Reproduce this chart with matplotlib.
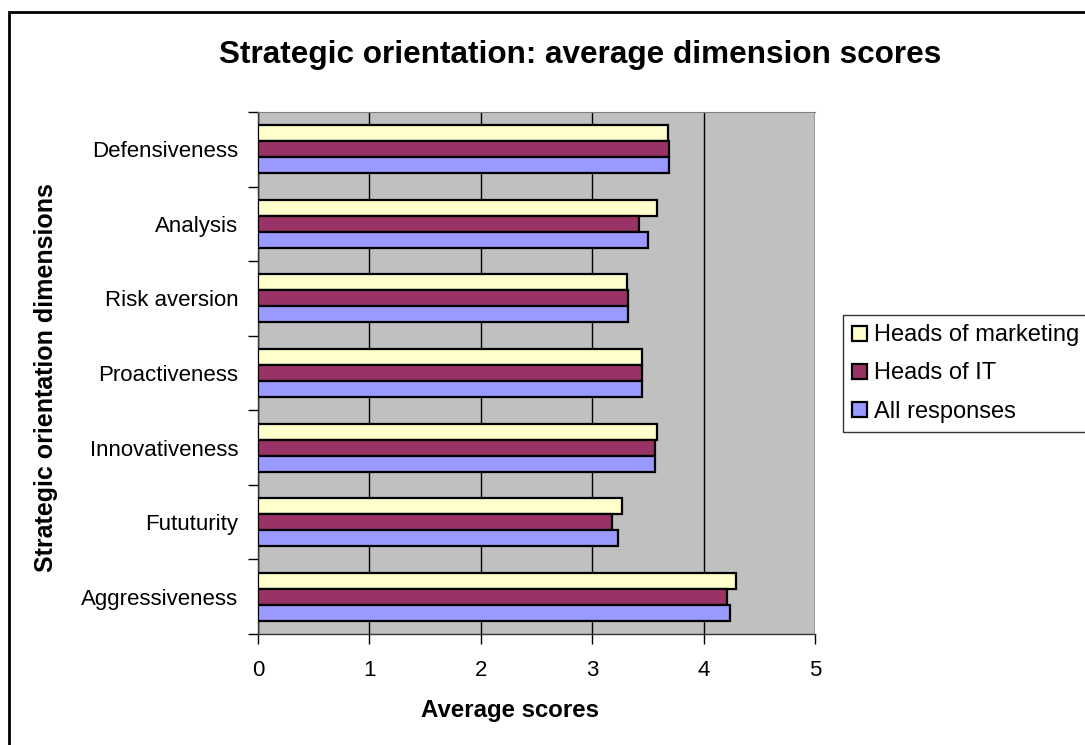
import matplotlib
matplotlib.use("Agg")
import matplotlib.pyplot as plt
import numpy as np
from matplotlib.patches import Rectangle

categories = ["Aggressiveness", "Fututurity", "Innovativeness", "Proactiveness",
              "Risk aversion", "Analysis", "Defensiveness"]
heads_marketing = [4.29, 3.27, 3.58, 3.45, 3.31, 3.58, 3.68]
heads_it = [4.21, 3.18, 3.56, 3.45, 3.32, 3.42, 3.69]
all_responses = [4.24, 3.23, 3.56, 3.45, 3.32, 3.50, 3.69]
series_names = ["Heads of marketing", "Heads of IT", "All responses"]
colors = ["#FFFFCC", "#993366", "#9999FF"]

plt.rcParams['font.family'] = ['Liberation Sans', 'DejaVu Sans']

W, H = 1085, 745
fig = plt.figure(figsize=(W / 100, H / 100), dpi=100)
fig.patch.set_facecolor("white")

# outer border (extends beyond right and bottom edges)
fig.patches.append(Rectangle((9 / W, -0.05), 1.0, (H - 12) / H + 0.05, transform=fig.transFigure,
                             fill=False, edgecolor="black", linewidth=2))

left, right, top, bottom = 258, 815, 112, 634
ax = fig.add_axes([left / W, 1 - bottom / H, (right - left) / W, (bottom - top) / H])
ax.set_facecolor("#C0C0C0")

n = len(categories)
y = np.arange(n)
bh = 0.215
data = [heads_marketing, heads_it, all_responses]
offsets = [bh, 0, -bh]
for vals, off, c, name in zip(data, offsets, colors, series_names):
    ax.barh(y + off, vals, height=bh, color=c, edgecolor="black", linewidth=1.6,
            label=name, zorder=3)

ax.set_xlim(0, 5)
ax.set_ylim(-0.5, n - 0.5)
ax.set_xticks(range(6))
ax.set_xticklabels([str(i) for i in range(6)], fontsize=16)
ax.set_yticks(y)
ax.set_yticklabels(categories, fontsize=16)
ax.set_yticks(np.arange(-0.5, n, 1), minor=True)
ax.tick_params(axis='y', which='major', length=0, pad=14)
ax.tick_params(axis='y', which='minor', length=7, direction='out', width=1)
ax.tick_params(axis='x', which='major', length=7, direction='out', width=1, pad=12)
ax.xaxis.grid(True, color="black", linewidth=1)
ax.set_axisbelow(True)
ax.spines["right"].set_visible(False)
for s in ["left", "bottom"]:
    ax.spines[s].set_color("#333333")
    ax.spines[s].set_linewidth(1)
ax.spines["top"].set_color("#808080")

ax.set_xlabel("Average scores", fontsize=17.3, fontweight="bold")
ax.set_ylabel("Strategic orientation dimensions", fontsize=18, fontweight="bold")
# label positions in axes coordinates
ax.xaxis.set_label_coords((510 - left) / (right - left), -(710 - bottom) / (bottom - top), transform=ax.transAxes)
ax.xaxis.label.set_va("center")
ax.yaxis.set_label_coords(-(left - 46) / (right - left), (bottom - 378) / (bottom - top), transform=ax.transAxes)
ax.yaxis.label.set_va("center")

fig.text(580 / W, 1 - 55 / H, "Strategic orientation: average dimension scores",
         ha="center", va="center", fontsize=22.7, fontweight="bold")

leg = fig.legend(*ax.get_legend_handles_labels(), loc="upper left",
                 bbox_to_anchor=(843 / W, 1 - 315 / H),
                 fontsize=17, frameon=True, fancybox=False, edgecolor="black",
                 handlelength=0.6, handleheight=0.6, handletextpad=0.3,
                 borderpad=0.4, labelspacing=0.68, borderaxespad=0)
leg.get_frame().set_linewidth(1)

fig.savefig("out.png", dpi=100, facecolor="white")
